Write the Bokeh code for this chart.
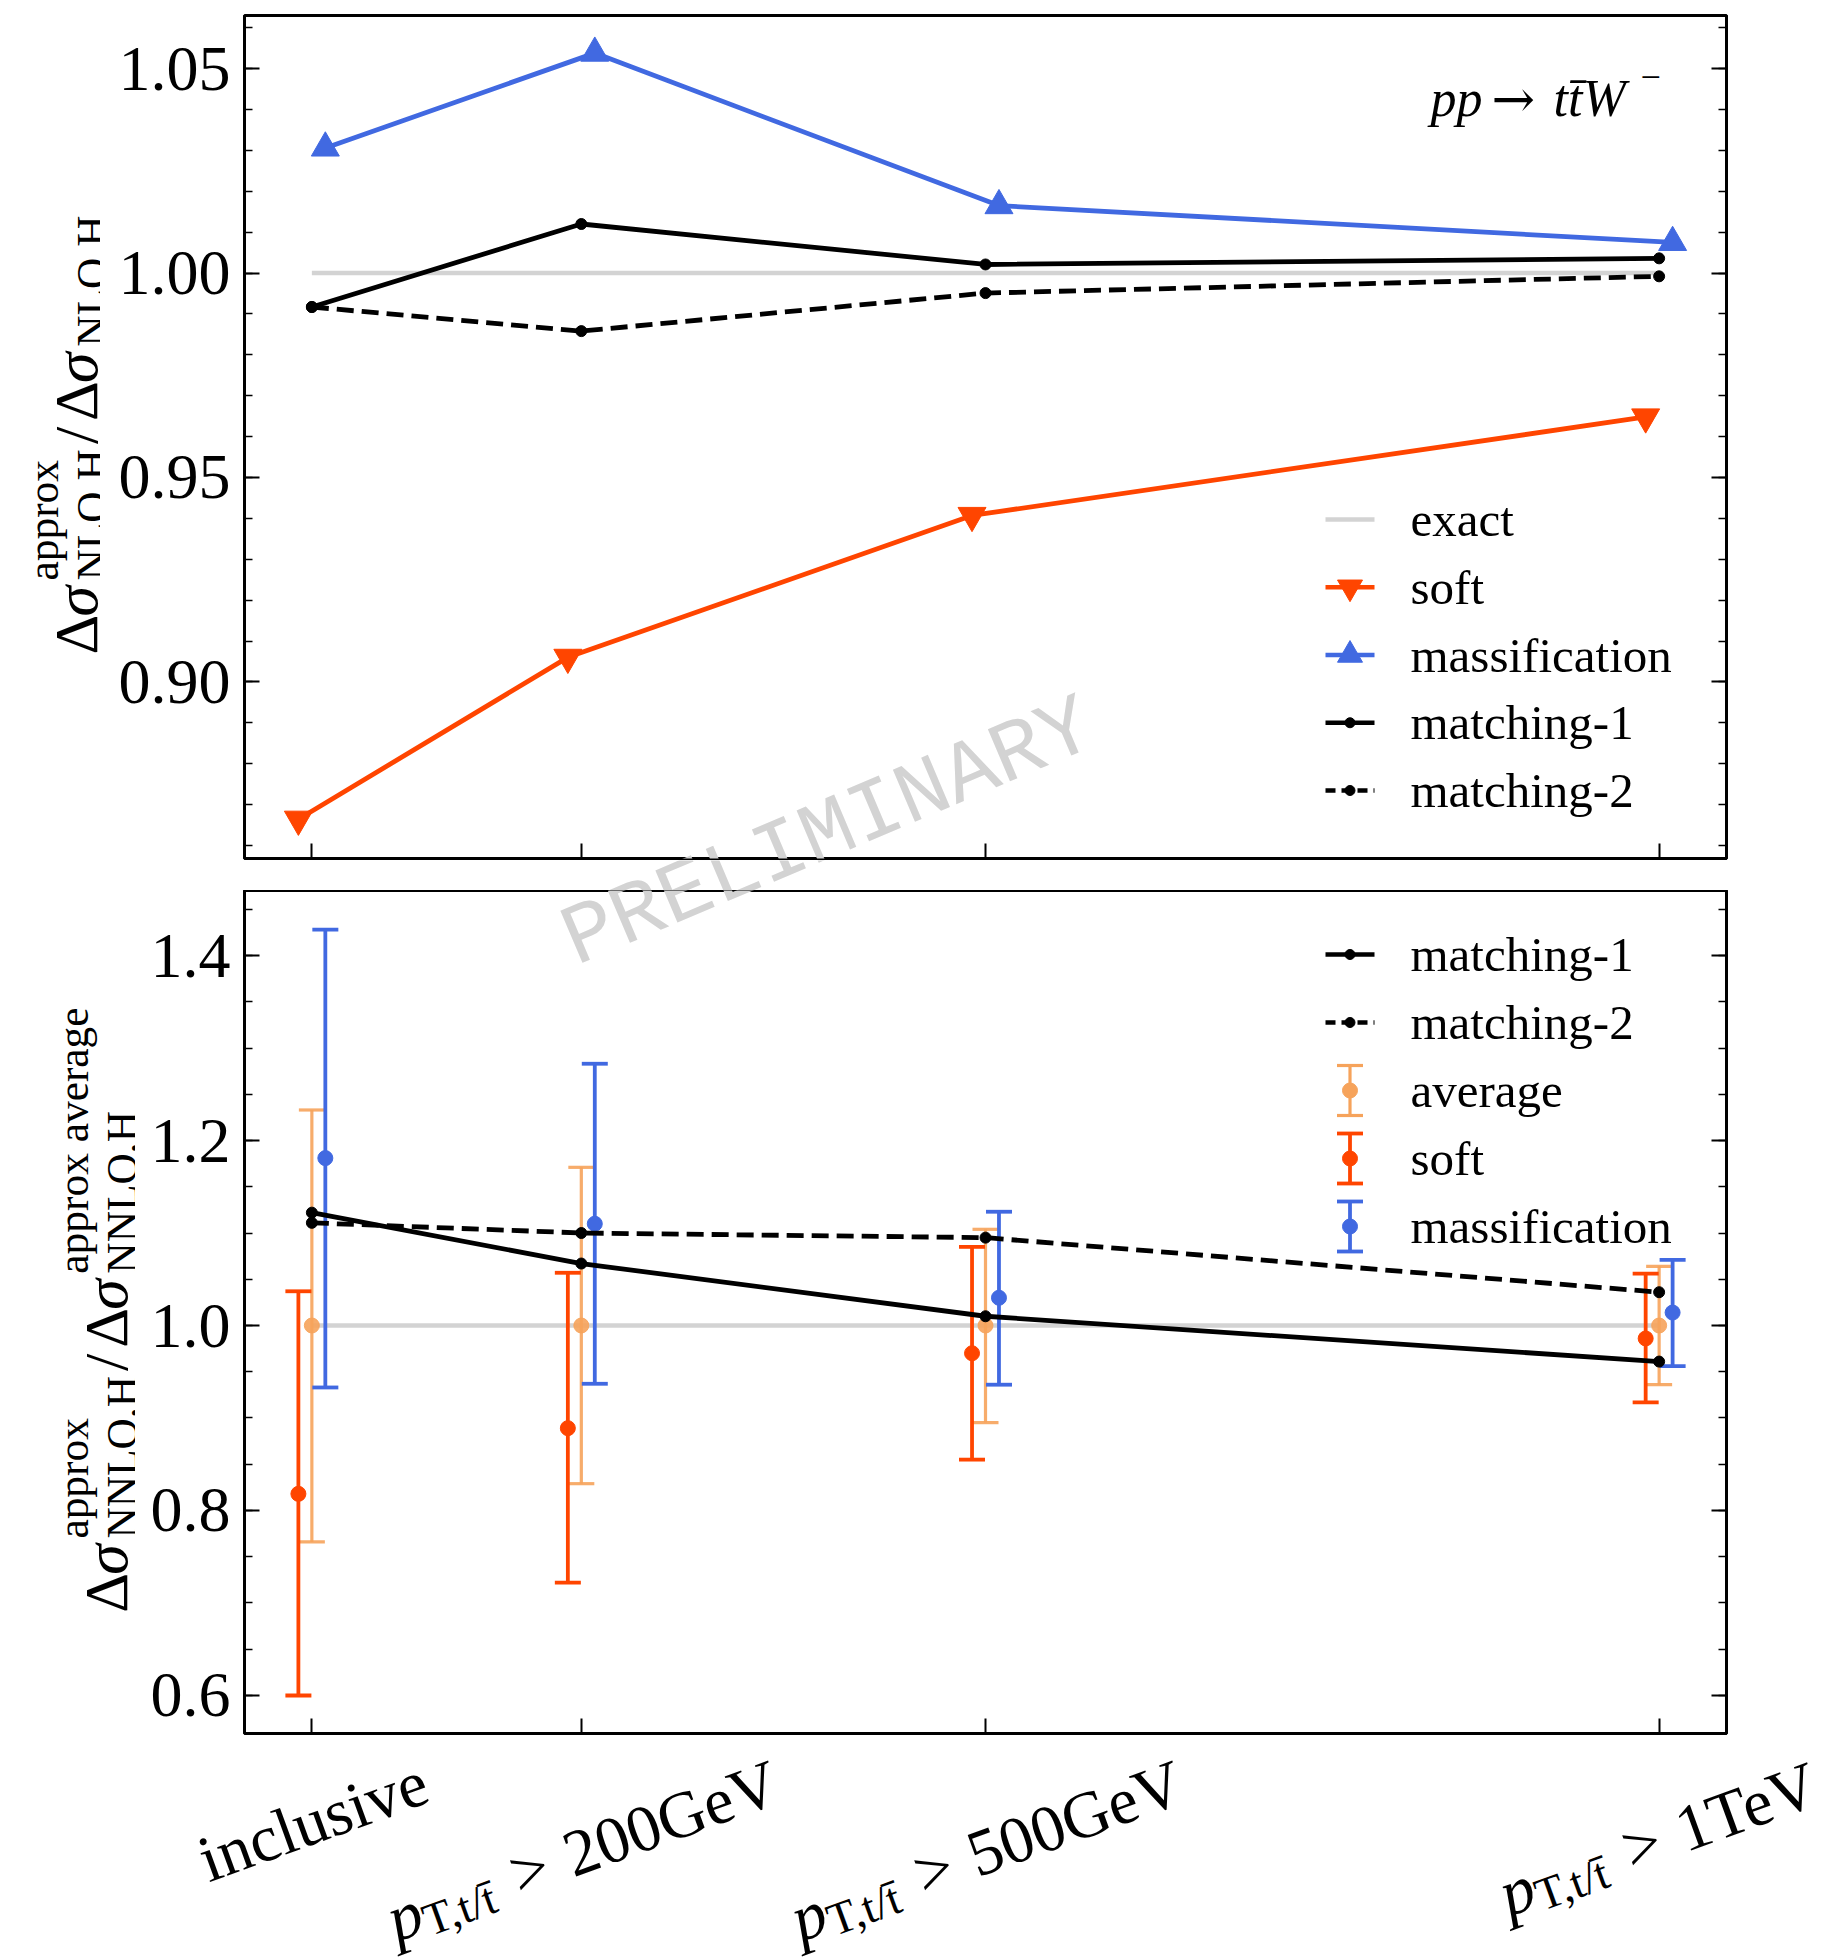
import math
from bokeh.plotting import figure
from bokeh.models import Range1d, FixedTicker, LinearAxis, Label, PrintfTickFormatter
from bokeh.layouts import column, row
from bokeh.embed import file_html
from bokeh.resources import INLINE

# ---------------- data ----------------
pt_cut = [0, 200, 500, 1000]                     # GeV, "inclusive" placed at 0
x_tick_value = ["inclusive", "200GeV", "500GeV", "1TeV"]
x_tick_has_pt = [False, True, True, True]

nlo_exact = [1.0, 1.0, 1.0, 1.0]
nlo_soft = [0.8664, 0.9060, 0.9407, 0.9648]
nlo_massification = [1.0306, 1.0538, 1.0165, 1.0075]
nlo_matching1 = [0.9917, 1.0120, 1.0021, 1.0036]
nlo_matching2 = [0.9917, 0.9858, 0.9951, 0.9992]

nnlo_exact = [1.0, 1.0, 1.0, 1.0]
nnlo_matching1 = [1.122, 1.067, 1.010, 0.961]
nnlo_matching2 = [1.111, 1.100, 1.095, 1.036]
nnlo_average = [1.0, 1.0, 1.0, 1.0]
nnlo_average_lo = [0.766, 0.829, 0.895, 0.936]
nnlo_average_hi = [1.233, 1.171, 1.104, 1.064]
nnlo_soft = [0.818, 0.889, 0.970, 0.986]
nnlo_soft_lo = [0.600, 0.722, 0.855, 0.917]
nnlo_soft_hi = [1.037, 1.057, 1.085, 1.056]
nnlo_mass = [1.181, 1.110, 1.030, 1.014]
nnlo_mass_lo = [0.933, 0.937, 0.936, 0.956]
nnlo_mass_hi = [1.428, 1.283, 1.123, 1.071]

top_yticks = [0.90, 0.95, 1.00, 1.05]
top_yminor = [round(0.86 + 0.01 * i, 2) for i in range(21)]
bot_yticks = [0.6, 0.8, 1.0, 1.2, 1.4]
bot_yminor = [round(0.55 + 0.05 * i, 2) for i in range(20)]

# ---------------- style / layout ----------------
BLUE = "#4169E1"
RED = "#FF4500"
ORANGE = "#F6A35B"
GRAY = "#D3D3D3"
SERIF = "Liberation Serif"
MONO = "Liberation Mono"
SHIFT = 10          # horizontal displacement (GeV) of soft / massification points

PAGE_W = 1829
FRAME_W, FRAME_H = 1482, 843
X0, X1 = -50, 1050
XSCALE = FRAME_W / (X1 - X0)
FRAME_LEFT, FRAME_RIGHT_B = 244, 103        # page x of frame left, right border
TOP_FRAME_TOP = 15                          # page y
TOP_FRAME_BOT = TOP_FRAME_TOP + FRAME_H     # 858
BOT_FRAME_TOP = 890
BOT_FRAME_BOT = BOT_FRAME_TOP + FRAME_H     # 1733
AXIS_B = 2                                  # bottom border below each panel frame
YLAB_W_TOP, YLAB_W_BOT = 100, 135           # width of the y-title canvases
ROW1_H = TOP_FRAME_BOT + AXIS_B             # 860
GAP_H = BOT_FRAME_TOP - ROW1_H              # 30
ROW2_H = FRAME_H + AXIS_B                   # 845
ROW3_H = 1960 - ROW1_H - GAP_H - ROW2_H     # 225

ROMAN = {' ': .25, ',': .25, '/': .278, '0': .5, '1': .5, '2': .5, '5': .5, '>': .564,
         'G': .722, 'H': .722, 'L': .611, 'N': .722, 'O': .722, 'T': .611, 'V': .722,
         'a': .444, 'c': .444, 'e': .444, 'g': .5, 'i': .278, 'l': .278, 'n': .5, 'o': .5,
         'p': .5, 'r': .333, 's': .389, 't': .278, 'u': .5, 'v': .5, 'x': .5, 'Δ': .612,
         '\u0304': 0.0}
ITALIC = {'p': .5, 't': .278, 'W': .833, 'σ': .55, '\u0304': 0.0}


def tw(text, size, style="normal"):
    table = ITALIC if style == "italic" else ROMAN
    return sum(table.get(ch, 0.5) for ch in text) * size


def text_canvas(width, height, xr=(0, 1)):
    p = figure(width=width, height=height, x_range=Range1d(*xr), y_range=Range1d(0, 1),
               output_backend="svg", toolbar_location=None,
               x_axis_location=None, y_axis_location=None,
               min_border_left=0, min_border_right=0, min_border_top=0, min_border_bottom=0)
    p.outline_line_color = None
    p.grid.visible = False
    return p


def make_panel(width, height, b_left, b_top, yr):
    p = figure(width=width, height=height, x_range=Range1d(X0, X1), y_range=Range1d(*yr),
               output_backend="svg", toolbar_location=None,
               min_border_left=b_left, min_border_right=FRAME_RIGHT_B,
               min_border_top=b_top, min_border_bottom=AXIS_B)
    p.xgrid.visible = False
    p.ygrid.visible = False
    p.outline_line_color = "black"
    p.outline_line_width = 3
    p.extra_x_ranges = {"px": Range1d(0, FRAME_W)}
    p.extra_y_ranges = {"py": Range1d(0, FRAME_H)}
    return p


def hide_labels(a):
    a.major_label_text_color = None
    a.major_label_text_font_size = "0px"
    a.major_label_standoff = 0


def style_axes(p, yticks, yminor, fmt):
    ax = p.xaxis[0]
    ax.ticker = FixedTicker(ticks=pt_cut)
    hide_labels(ax)
    ax.major_tick_in = 15
    ax.major_tick_out = 0
    ax.major_tick_line_width = 2
    ax.minor_tick_line_color = None
    ax.axis_line_width = 3
    yt = FixedTicker(ticks=yticks, minor_ticks=yminor)
    ay = p.yaxis[0]
    ay.ticker = yt
    ay.formatter = PrintfTickFormatter(format=fmt)
    ay.major_label_text_font = SERIF
    ay.major_label_text_font_size = "64px"
    ay.major_label_text_color = "black"
    ay.major_label_standoff = 14
    ar = LinearAxis(ticker=yt)
    hide_labels(ar)
    p.add_layout(ar, "right")
    for a in (ay, ar):
        a.major_tick_in = 15
        a.major_tick_out = 0
        a.minor_tick_in = 8
        a.minor_tick_out = 0
        a.major_tick_line_width = 2
        a.minor_tick_line_width = 1.5
        a.axis_line_width = 3


def label(p, text, x, y, size, style="normal", angle=0.0, x_units="screen", x_offset=0.0,
          color="black", font=SERIF, align="left", baseline="alphabetic"):
    p.add_layout(Label(x=x, y=y, x_units=x_units, y_units="screen", x_offset=x_offset,
                       text=text, text_font=font, text_font_size=f"{size:.1f}px",
                       text_font_style=style, text_color=color,
                       angle=angle, text_align=align, text_baseline=baseline))


def rich(p, pieces, ox, oy, angle, x_units="screen", xdata=None):
    c, s_ = math.cos(angle), math.sin(angle)
    for (txt, size, style, s, v) in pieces:
        dx = s * c - v * s_
        dy = s * s_ + v * c
        if x_units == "data":
            label(p, txt, xdata, oy + dy, size, style, angle, "data", ox + dx)
        else:
            label(p, txt, ox + dx, oy + dy, size, style, angle)


# ---- y-axis title builder: Δσ^{sup1}_{sub1} / Δσ^{sup2}_{sub2} ----
YL_F = 62
YL_S = 0.7 * YL_F
YL_SUP = 33
YL_SUB = -16


def ratio_pieces(sup1, sub1, sup2, sub2):
    pieces = []
    s = 0.0
    for (sup, sub, last) in ((sup1, sub1, False), (sup2, sub2, True)):
        pieces.append(("Δ", YL_F, "normal", s, 0)); s += tw("Δ", YL_F)
        pieces.append(("σ", YL_F, "italic", s, 0)); s += tw("σ", YL_F, "italic")
        s += 2
        w = 0.0
        if sup:
            pieces.append((sup, YL_S, "normal", s, YL_SUP)); w = max(w, tw(sup, YL_S))
        if sub:
            pieces.append((sub, YL_S, "normal", s, YL_SUB)); w = max(w, tw(sub, YL_S))
        s += w
        if not last:
            s += 5
            pieces.append(("/", YL_F, "normal", s, 0)); s += tw("/", YL_F) + 6
    return pieces, s


# watermark (page position of its centre), drawn in every canvas it crosses
WM_CX, WM_CY = 828, 833
WM_ANGLE = math.radians(23)
WM_SIZE = 86


def watermark(p, x, y):
    label(p, "PRELIMINARY", x, y, WM_SIZE, angle=WM_ANGLE, font=MONO, color=GRAY,
          align="center", baseline="middle")


x_mid = pt_cut
x_soft = [v - SHIFT for v in pt_cut]
x_mass = [v + SHIFT for v in pt_cut]

# legend geometry (frame pixels)
LEG_X0, LEG_X1, LEG_XC, LEG_TX = 1081, 1130, 1105.5, 1166
LEG_FS = 49

# =================== TOP PANEL ===================
top = make_panel(PAGE_W - YLAB_W_TOP, ROW1_H, FRAME_LEFT - YLAB_W_TOP, TOP_FRAME_TOP,
                 (0.8568, 1.0630))
style_axes(top, top_yticks, top_yminor, "%.2f")

top.line(x_mid, nlo_exact, line_color=GRAY, line_width=4.5)
top.line(x_soft, nlo_soft, line_color=RED, line_width=4.8)
top.scatter(x_soft, nlo_soft, marker="inverted_triangle", size=28, color=RED)
top.line(x_mass, nlo_massification, line_color=BLUE, line_width=4.8)
top.scatter(x_mass, nlo_massification, marker="triangle", size=28, color=BLUE)
top.line(x_mid, nlo_matching1, line_color="black", line_width=4.8)
top.scatter(x_mid, nlo_matching1, marker="circle", size=11, color="black")
top.line(x_mid, nlo_matching2, line_color="black", line_width=4.8, line_dash="17 8")
top.scatter(x_mid, nlo_matching2, marker="circle", size=11, color="black")

# process label
label(top, "pp", 1186, 760, 52, "italic")
label(top, "→", 1247, 760, 52, font="DejaVu Serif")
label(top, "tt\u0304W", 1309, 760, 52, "italic")
label(top, "−", 1396, 782, 36)

top_legend = [("exact", GRAY, None, None), ("soft", RED, None, "inverted_triangle"),
              ("massification", BLUE, None, "triangle"), ("matching-1", "black", None, "circle"),
              ("matching-2", "black", "10 6", "circle")]
for i, (name, col, dash, mk) in enumerate(top_legend):
    ry = 339 - i * 67.75
    kw = dict(line_dash=dash) if dash else {}
    top.line([LEG_X0, LEG_X1], [ry, ry], line_color=col, line_width=4.5,
             x_range_name="px", y_range_name="py", **kw)
    if mk:
        top.scatter([LEG_XC], [ry], marker=mk, size=25 if "triangle" in mk else 10, color=col,
                    x_range_name="px", y_range_name="py")
    label(top, name, LEG_TX, ry, LEG_FS, baseline="middle")

watermark(top, WM_CX - FRAME_LEFT, TOP_FRAME_BOT - WM_CY)

# y title (top)
ylab_top = text_canvas(YLAB_W_TOP, ROW1_H)
pcs, L = ratio_pieces("approx", "NLO,H", None, "NLO,H")
rich(ylab_top, pcs, 75, ROW1_H - (TOP_FRAME_TOP + FRAME_H / 2) - L / 2, math.pi / 2)

# =================== GAP STRIP (watermark only) ===================
gap = text_canvas(PAGE_W, GAP_H)
watermark(gap, WM_CX, BOT_FRAME_TOP - WM_CY)

# =================== BOTTOM PANEL ===================
bot = make_panel(PAGE_W - YLAB_W_BOT, ROW2_H, FRAME_LEFT - YLAB_W_BOT, 0, (0.5589, 1.4703))
style_axes(bot, bot_yticks, bot_yminor, "%.1f")

bot.line(x_mid, nnlo_exact, line_color=GRAY, line_width=4.5)


def errbar(p, xs, y, lo, hi, col, lw, alpha=1.0, size=15):
    p.segment(x0=xs, y0=lo, x1=xs, y1=hi, line_color=col, line_width=lw, line_alpha=alpha)
    p.scatter(xs, lo, marker="dash", size=26, line_color=col, line_width=lw, line_alpha=alpha)
    p.scatter(xs, hi, marker="dash", size=26, line_color=col, line_width=lw, line_alpha=alpha)
    p.scatter(xs, y, marker="circle", size=size, color=col, alpha=alpha)


errbar(bot, x_mid, nnlo_average, nnlo_average_lo, nnlo_average_hi, ORANGE, 3.2, 0.9)
errbar(bot, x_soft, nnlo_soft, nnlo_soft_lo, nnlo_soft_hi, RED, 3.8)
errbar(bot, x_mass, nnlo_mass, nnlo_mass_lo, nnlo_mass_hi, BLUE, 3.8)

bot.line(x_mid, nnlo_matching1, line_color="black", line_width=4.8)
bot.scatter(x_mid, nnlo_matching1, marker="circle", size=11, color="black")
bot.line(x_mid, nnlo_matching2, line_color="black", line_width=4.8, line_dash="17 8")
bot.scatter(x_mid, nnlo_matching2, marker="circle", size=11, color="black")

bot_legend = [("matching-1", "black", None, "line"), ("matching-2", "black", "10 6", "line"),
              ("average", ORANGE, None, "err"), ("soft", RED, None, "err"),
              ("massification", BLUE, None, "err")]
for i, (name, col, dash, kind) in enumerate(bot_legend):
    ry = 779 - i * 68
    if kind == "line":
        kw = dict(line_dash=dash) if dash else {}
        bot.line([LEG_X0, LEG_X1], [ry, ry], line_color=col, line_width=4.5,
                 x_range_name="px", y_range_name="py", **kw)
        bot.scatter([LEG_XC], [ry], marker="circle", size=10, color=col,
                    x_range_name="px", y_range_name="py")
    else:
        lw = 3.2 if col == ORANGE else 3.8
        bot.segment(x0=[LEG_XC], y0=[ry - 25], x1=[LEG_XC], y1=[ry + 25], line_color=col,
                    line_width=lw, x_range_name="px", y_range_name="py")
        bot.scatter([LEG_XC, LEG_XC], [ry - 25, ry + 25], marker="dash", size=26, line_color=col,
                    line_width=lw, x_range_name="px", y_range_name="py")
        bot.scatter([LEG_XC], [ry], marker="circle", size=15, color=col,
                    x_range_name="px", y_range_name="py")
    label(bot, name, LEG_TX, ry, LEG_FS, baseline="middle")

watermark(bot, WM_CX - FRAME_LEFT, BOT_FRAME_BOT - WM_CY)

# y title (bottom)
ylab_bot = text_canvas(YLAB_W_BOT, ROW2_H)
pcs, L = ratio_pieces("approx", "NNLO,H", "approx average", "NNLO,H")
rich(ylab_bot, pcs, 105, (BOT_FRAME_BOT + AXIS_B) - (BOT_FRAME_TOP + FRAME_H / 2) - L / 2,
     math.pi / 2)

# =================== X TICK LABELS (rotated, with subscripts) ===================
xl_range = (X0 - FRAME_LEFT / XSCALE, X1 + FRAME_RIGHT_B / XSCALE)
xlab = text_canvas(PAGE_W, ROW3_H, xl_range)
XL_F = 66
XL_S = 0.7 * XL_F
XL_GAP = 0.3 * XL_F                    # math spacing around ">"
TH = math.radians(20)
XL_TOP = ROW3_H + AXIS_B - 3           # top of the rotated label boxes, just under the frame
for cut, val, has_pt in zip(pt_cut, x_tick_value, x_tick_has_pt):
    pieces = []
    s = 0.0
    if has_pt:
        pieces.append(("p", XL_F, "italic", s, 0)); s += tw("p", XL_F, "italic")
        sub = "T,t/t\u0304"
        pieces.append((sub, XL_S, "normal", s, -0.2 * XL_F)); s += tw(sub, XL_S)
        s += XL_GAP
        pieces.append((">", XL_F, "normal", s, 0)); s += tw(">", XL_F) + XL_GAP
    pieces.append((val, XL_F, "normal", s, 0)); s += tw(val, XL_F)
    W = s
    A, D = 0.70 * XL_F, 0.25 * XL_F
    cx = (W * math.cos(TH) + (D - A) * math.sin(TH)) / 2
    oy = XL_TOP - W * math.sin(TH) - A * math.cos(TH)
    rich(xlab, pieces, -cx - 4, oy, TH, x_units="data", xdata=cut)

layout = column(row(ylab_top, top, spacing=0),
                gap,
                row(ylab_bot, bot, spacing=0),
                xlab, spacing=0)
open("out.html", "w").write(file_html(layout, INLINE))
